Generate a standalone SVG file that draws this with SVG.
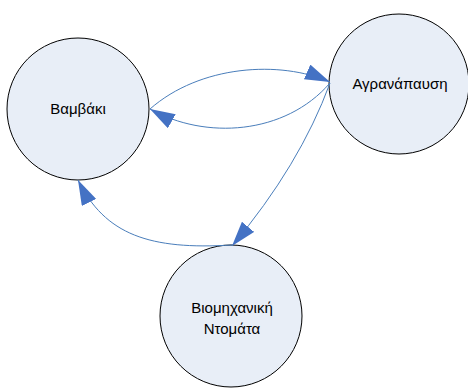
<svg xmlns="http://www.w3.org/2000/svg" width="468" height="388" viewBox="0 0 468 388">
  <style>
    .node circle { fill: #E8EEF7; stroke: #000; stroke-width: 1; }
    .node text { font-family: "Liberation Sans", Arial, sans-serif; font-size: 15px; fill: #000; text-anchor: middle; }
    .edges path { fill: none; stroke: #4A7EBB; stroke-width: 1; marker-end: url(#arrow); }
  </style>
  <defs>
    <marker id="arrow" markerUnits="userSpaceOnUse" markerWidth="25" markerHeight="16" refX="25" refY="8" orient="auto">
      <path d="M0,0 L25,8 L0,16 z" fill="#4472C4"/>
    </marker>
  </defs>

  <g id="node-vamvaki" class="node">
    <circle cx="78" cy="109" r="71"/>
    <text x="78" y="114">Βαμβάκι</text>
  </g>

  <g id="node-agranapausi" class="node">
    <circle cx="399" cy="84" r="70"/>
    <text x="400" y="89">Αγρανάπαυση</text>
  </g>

  <g id="node-domata" class="node">
    <circle cx="231" cy="316" r="71"/>
    <text x="232" y="313">Βιομηχανική</text>
    <text x="232" y="334">Ντομάτα</text>
  </g>

  <g id="edges" class="edges">
    <path d="M150,109 C200,65 280,60 330,82"/>
    <path d="M330,83 C285,135 205,140 150,109"/>
    <path d="M330,83 Q300,165 232,246"/>
    <path d="M232,245 C150,250 105,235 78,180"/>
  </g>
</svg>
